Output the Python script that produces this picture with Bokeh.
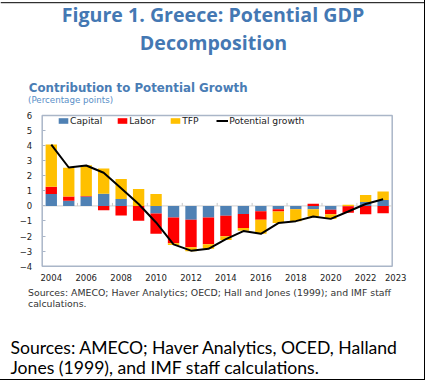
import numpy as np
from bokeh.plotting import figure
from bokeh.models import ColumnDataSource, Legend, LegendItem, FixedTicker
from bokeh.core.properties import value
from bokeh.embed import file_html
from bokeh.resources import INLINE

# ---------------- data ----------------
years = list(range(2004, 2024))
capital = [0.79, 0.35, 0.62, 0.81, 0.46, 0.00, -0.50, -0.77, -0.92, -0.77,
           -0.66, -0.53, -0.35, -0.22, -0.20, -0.22, -0.26, -0.03, 0.26, 0.40]
labor = [0.48, 0.27, 0.04, -0.29, -0.64, -0.99, -1.35, -1.71, -1.83, -1.78,
         -1.36, -0.94, -0.57, -0.15, -0.02, 0.15, -0.29, -0.43, -0.55, -0.48]
tfp = [2.80, 1.91, 2.04, 1.67, 1.32, 1.12, 0.79, -0.11, -0.26, -0.29,
       -0.24, -0.18, -0.93, -0.77, -0.79, -0.48, -0.31, 0.07, 0.47, 0.55]
potential = [4.07, 2.55, 2.68, 2.20, 1.17, 0.13, -1.10, -2.55, -2.97, -2.85,
             -2.20, -1.67, -1.85, -1.14, -1.01, -0.70, -0.86, -0.37, 0.13, 0.44]
x_tick_years = [2004, 2006, 2008, 2010, 2012, 2014, 2016, 2018, 2020, 2022]
last_year_label = "2023"
y_ticks = [-4, -3, -2, -1, 0, 1, 2, 3, 4, 5, 6]
series_names = ["Capital", "Labor", "TFP"]
series_colors = ["#4f81b4", "#ff0000", "#ffc000"]

title1 = "Figure 1. Greece: Potential GDP"
title2 = "Decomposition"
subtitle = "Contribution to Potential Growth"
units = "(Percentage points)"
src1 = "Sources: AMECO; Haver Analytics; OECD; Hall and Jones (1999); and IMF staff"
src2 = "calculations."
foot1 = "Sources: AMECO; Haver Analytics, OCED, Halland"
foot2 = "Jones (1999), and IMF staff calculations."

# ---------------- geometry ----------------
W, H = 425, 380
# chart box in canvas pixels
BOX_L, BOX_R, BOX_T, BOX_B = 41.7, 391.7, 115.0, 265.7
X_START, X_END = 2003.48, 2023.52      # years at the chart box edges
Y_MIN, Y_MAX = -4, 6
PX_X = (BOX_R - BOX_L) / (X_END - X_START)
PX_Y = (BOX_B - BOX_T) / (Y_MAX - Y_MIN)
XR = (X_START - BOX_L / PX_X, X_END + (W - BOX_R) / PX_X)
YR = (Y_MIN - (H - BOX_B) / PX_Y, Y_MAX + BOX_T / PX_Y)


def cx(px):
    return XR[0] + px / PX_X


def cy(py):
    return YR[1] - py / PX_Y


p = figure(width=W, height=H, x_range=XR, y_range=YR,
           output_backend="svg", toolbar_location=None, min_border=0)
p.title = None
p.background_fill_color = "white"
p.border_fill_color = "white"
p.outline_line_color = None
p.xgrid.grid_line_color = None
p.ygrid.grid_line_color = None
p.styles = {"border-right": "1.5px solid black", "border-bottom": "1.5px solid black"}

tick_font = "DejaVu Sans"
box_col = "#aab6c8"

yax = p.yaxis[0]
yax.fixed_location = X_START
yax.ticker = FixedTicker(ticks=y_ticks)
yax.axis_line_color = None
yax.major_tick_in = 3
yax.major_tick_out = 0
yax.major_tick_line_color = box_col
yax.minor_tick_line_color = None
yax.major_label_standoff = 10
yax.major_label_text_font = tick_font
yax.major_label_text_font_size = "8.5px"
yax.major_label_text_color = "#222222"

last_x = years[-1] + 0.72
xax = p.xaxis[0]
xax.fixed_location = Y_MIN
xax.ticker = FixedTicker(ticks=x_tick_years + [last_x])
xax.major_label_overrides = {last_x: last_year_label}
xax.axis_line_color = None
xax.major_tick_in = 0
xax.major_tick_out = 0
xax.minor_tick_line_color = None
xax.major_label_standoff = 8
xax.major_label_text_font = tick_font
xax.major_label_text_font_size = "8.5px"
xax.major_label_text_color = "#222222"

# chart box
p.quad(left=[X_START], right=[X_END], bottom=[Y_MIN], top=[Y_MAX],
       fill_color=None, line_color=box_col, line_width=1.5)

# zero line and its small ticks
p.segment(x0=[X_START], x1=[X_END], y0=[0], y1=[0], line_color="#d0d0d0", line_width=1)
bx = [y + 1.5 for y in x_tick_years[:-1]]
p.segment(x0=bx, x1=bx, y0=[0] * len(bx), y1=[0.2] * len(bx),
          line_color="#c8c8c8", line_width=1)

# stacked bars with separate positive/negative stacks
vals = np.array([capital, labor, tfp])
pos_base = np.zeros(len(years))
neg_base = np.zeros(len(years))
bar_renderers = []
for name, col, v in zip(series_names, series_colors, vals):
    bottom = np.where(v >= 0, pos_base, neg_base)
    top_v = bottom + v
    pos_base = np.where(v >= 0, top_v, pos_base)
    neg_base = np.where(v < 0, top_v, neg_base)
    src = ColumnDataSource(dict(x=years, top=top_v, bottom=bottom))
    r = p.vbar(x="x", top="top", bottom="bottom", width=0.65, source=src,
               fill_color=col, line_color=None)
    bar_renderers.append(r)

line_r = p.line(years, potential, line_color="black", line_width=2)

legend = Legend(items=[LegendItem(label=n, renderers=[r]) for n, r in zip(series_names, bar_renderers)]
                + [LegendItem(label="Potential growth", renderers=[line_r])],
                orientation="horizontal", location=(57, H - 122 - 3.5),
                border_line_color=None, background_fill_alpha=0,
                padding=0, margin=0, spacing=14, label_standoff=1,
                glyph_width=12, glyph_height=7, label_height=7,
                label_text_font=tick_font, label_text_font_size="9.2px",
                label_text_color="#222222")
p.add_layout(legend, "center")


def put(px, py, t, font, size, color, style="normal", align="left"):
    # py is the wanted baseline; shift to compensate the glyph's baseline placement
    p.text(x=[cx(px)], y=[cy(py - 0.33 * size)], text=[t], text_font=value(font),
           text_font_size=f"{size}px", text_color=color, text_font_style=style,
           text_align=align, text_baseline="alphabetic")


blue = "#4478b3"
p.segment(x0=[cx(0)], x1=[cx(W)], y0=[cy(2.2)], y1=[cy(2.2)], line_color="black", line_width=1)
put(212.5, 20.7, title1, "Open Sans", 19.6, blue, "bold", "center")
put(213, 48.3, title2, "Open Sans", 19.6, blue, "bold", "center")
put(28.3, 91.7, subtitle, "DejaVu Sans", 11.8, "#4a7db5", "bold")
put(27.5, 102.3, units, "DejaVu Sans", 8.7, "#5a8fc8")
put(27.5, 295, src1, "DejaVu Sans", 9.35, "#333333")
put(27.5, 305.7, src2, "DejaVu Sans", 9.35, "#333333")
put(10, 352.7, foot1, "Lato", 17.6, "black")
put(10, 373.3, foot2, "Lato", 17.6, "black")

open("out.html", "w").write(file_html(p, INLINE))
